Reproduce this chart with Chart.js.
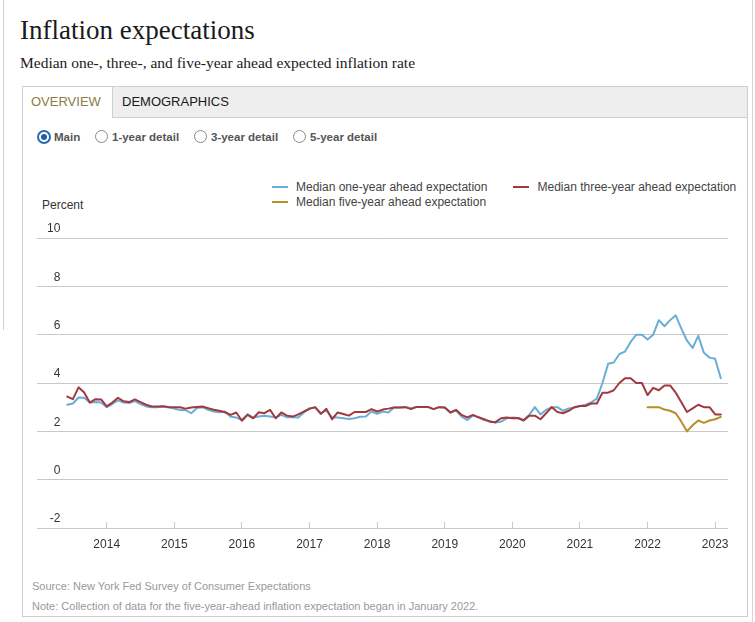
<!DOCTYPE html>
<html>
<head>
<meta charset="utf-8">
<script src="https://cdn.jsdelivr.net/npm/chart.js@4.4.0/dist/chart.umd.min.js"></script>
<style>
html,body{margin:0;padding:0;background:#fff;}
body{width:755px;height:622px;position:relative;overflow:hidden;font-family:Arial,"Liberation Sans",sans-serif;}
.abs{position:absolute;white-space:nowrap;}
#title{left:20px;top:14px;font-family:"Liberation Serif",serif;font-size:27px;color:#1a1a1a;line-height:32px;}
#subtitle{left:20px;top:54px;font-family:"Liberation Serif",serif;font-size:15.5px;color:#1a1a1a;line-height:18px;}
#leftline{left:3px;top:0;width:1px;height:330px;background:#d0d0d0;}
#rightline{left:752px;top:0;width:1px;height:622px;background:#d8d8d8;}
#panel{left:22px;top:86px;width:726px;height:531px;border:1px solid #cfcfcf;box-sizing:border-box;}
#tabbar{left:0;top:0;width:724px;height:30px;background:#eeeeee;border-bottom:1px solid #cfcfcf;}
#tab1{left:0;top:0;width:89px;height:31px;background:#fff;border-right:1px solid #cfcfcf;color:#8c7b45;font-size:13px;line-height:30px;text-indent:8px;}
#tab2{left:99px;top:0;height:30px;color:#1a1a1a;font-size:13px;line-height:30px;}
.radio{top:130px;width:11px;height:11px;border:1.5px solid #8a8a8a;border-radius:50%;background:#fff;}
.radio.sel{border:2px solid #2a6cb0;width:10px;height:10px;}
.radio.sel::after{content:"";position:absolute;left:2px;top:2px;width:6px;height:6px;border-radius:50%;background:#1f5fa6;}
.rlabel{top:130px;font-size:11.5px;font-weight:bold;color:#555;line-height:14px;}
#percent{left:42px;top:198px;font-size:12px;color:#333;line-height:14px;}
#legend{left:272px;top:179px;width:520px;display:flex;flex-wrap:wrap;}
.litem{display:flex;align-items:center;height:15px;margin-right:26px;font-size:12px;color:#444;white-space:nowrap;}
.lswatch{width:16px;height:2px;margin-right:8px;}
#chartwrap{left:0;top:210px;width:755px;height:360px;}
.foot{left:32px;font-size:11px;color:#999;line-height:13px;}
</style>
</head>
<body>
<div class="abs" id="leftline"></div>
<div class="abs" id="rightline"></div>
<div class="abs" id="title">Inflation expectations</div>
<div class="abs" id="subtitle">Median one-, three-, and five-year ahead expected inflation rate</div>
<div class="abs" id="panel">
  <div class="abs" id="tabbar"></div>
  <div class="abs" id="tab1">OVERVIEW</div>
  <div class="abs" id="tab2">DEMOGRAPHICS</div>
</div>
<div class="abs radio sel" style="left:37px;"></div><div class="abs rlabel" style="left:54px;">Main</div>
<div class="abs radio" style="left:95px;"></div><div class="abs rlabel" style="left:112px;">1-year detail</div>
<div class="abs radio" style="left:194px;"></div><div class="abs rlabel" style="left:211px;">3-year detail</div>
<div class="abs radio" style="left:293px;"></div><div class="abs rlabel" style="left:310px;">5-year detail</div>
<div class="abs" id="legend"></div>
<div class="abs" id="percent">Percent</div>
<div class="abs" id="chartwrap"><canvas id="c" width="755" height="360"></canvas></div>
<div class="abs foot" style="top:580px;">Source: New York Fed Survey of Consumer Expectations</div>
<div class="abs foot" style="top:600px;">Note: Collection of data for the five-year-ahead inflation expectation began in January 2022.</div>

<script>
// ---- data (monthly, survey months) ----
const firstMonth = [2013, 6];      // June 2013
const fiveYearFirstMonth = [2022, 1]; // January 2022

const oneYear = [
  3.10, 3.15, 3.40, 3.39, 3.19, 3.21, 3.19, 3.00, 3.13, 3.28, 3.19, 3.17, 3.25, 3.13, 3.03, 3.00, 3.00, 3.03, 2.99, 2.94,
  2.88, 2.88, 2.75, 2.96, 3.00, 2.89, 2.82, 2.79, 2.82, 2.60, 2.57, 2.47, 2.71, 2.57, 2.61, 2.64, 2.61, 2.57, 2.68, 2.58,
  2.58, 2.57, 2.78, 2.96, 2.99, 2.75, 2.86, 2.57, 2.57, 2.54, 2.51, 2.54, 2.60, 2.61, 2.82, 2.72, 2.82, 2.78, 2.99, 2.99,
  3.01, 2.96, 3.01, 3.01, 3.01, 2.92, 3.00, 2.99, 2.78, 2.86, 2.61, 2.47, 2.65, 2.58, 2.47, 2.43, 2.36, 2.40, 2.54, 2.57,
  2.55, 2.47, 2.68, 3.00, 2.70, 2.89, 3.00, 3.00, 2.85, 2.95, 2.98, 3.05, 3.10, 3.20, 3.35, 4.00, 4.80, 4.85, 5.20, 5.30,
  5.70, 6.00, 6.00, 5.80, 6.00, 6.60, 6.35, 6.60, 6.80, 6.25, 5.75, 5.45, 5.95, 5.25, 5.05, 5.00, 4.20
];
const threeYear = [
  3.44, 3.33, 3.82, 3.61, 3.19, 3.33, 3.32, 3.03, 3.19, 3.39, 3.24, 3.21, 3.32, 3.21, 3.10, 3.03, 3.03, 3.04, 3.01, 3.00,
  3.00, 2.94, 2.99, 3.01, 3.03, 2.96, 2.89, 2.85, 2.79, 2.68, 2.78, 2.44, 2.68, 2.54, 2.79, 2.75, 2.89, 2.54, 2.78, 2.65,
  2.61, 2.70, 2.82, 2.93, 3.00, 2.72, 2.93, 2.50, 2.78, 2.72, 2.65, 2.80, 2.80, 2.80, 2.92, 2.82, 2.90, 2.94, 2.99, 2.99,
  3.00, 2.92, 3.01, 3.01, 3.01, 2.92, 3.00, 2.99, 2.78, 2.89, 2.68, 2.58, 2.68, 2.58, 2.50, 2.40, 2.38, 2.54, 2.57, 2.54,
  2.55, 2.45, 2.65, 2.65, 2.50, 2.75, 3.00, 2.80, 2.75, 2.85, 3.00, 3.05, 3.05, 3.15, 3.15, 3.60, 3.60, 3.70, 4.00, 4.20,
  4.20, 4.00, 4.00, 3.50, 3.80, 3.70, 3.90, 3.90, 3.60, 3.20, 2.80, 2.95, 3.10, 3.00, 3.00, 2.70, 2.70
];
const fiveYear = [3.00, 3.00, 3.00, 2.90, 2.85, 2.75, 2.40, 2.00, 2.25, 2.45, 2.35, 2.45, 2.50, 2.60];

const yTicks = [-2, 0, 2, 4, 6, 8, 10];
const xYearLabels = [2014, 2015, 2016, 2017, 2018, 2019, 2020, 2021, 2022, 2023];

const seriesNames = ['Median one-year ahead expectation', 'Median three-year ahead expectation', 'Median five-year ahead expectation'];
const seriesColors = ['#6aaed4', '#a3383e', '#b78f2a'];

// month index -> decimal year position
function monthPos(start, i) {
  const total = start[0] * 12 + (start[1] - 1) + i;
  return Math.floor(total / 12) + (total % 12) / 12;
}
function toPoints(start, values) {
  return values.map((v, i) => ({ x: monthPos(start, i), y: v }));
}

const htmlLegend = {
  id: 'htmlLegend',
  afterUpdate(chart) {
    const box = document.getElementById('legend');
    box.innerHTML = '';
    chart.data.datasets.forEach(ds => {
      const item = document.createElement('div');
      item.className = 'litem';
      const sw = document.createElement('span');
      sw.className = 'lswatch';
      sw.style.background = ds.borderColor;
      const tx = document.createElement('span');
      tx.textContent = ds.label;
      item.appendChild(sw); item.appendChild(tx);
      box.appendChild(item);
    });
  }
};

new Chart(document.getElementById('c'), {
  type: 'line',
  data: {
    datasets: [
      { label: seriesNames[0], data: toPoints(firstMonth, oneYear), borderColor: seriesColors[0], order: 2 },
      { label: seriesNames[1], data: toPoints(firstMonth, threeYear), borderColor: seriesColors[1], order: 1 },
      { label: seriesNames[2], data: toPoints(fiveYearFirstMonth, fiveYear), borderColor: seriesColors[2], order: 0 }
    ]
  },
  options: {
    responsive: false,
    animation: false,
    events: [],
    layout: { padding: { left: 37, right: 27, top: 28, bottom: 10 } },
    elements: {
      line: { borderWidth: 2, tension: 0, fill: false, borderCapStyle: 'round', borderJoinStyle: 'round' },
      point: { radius: 0 }
    },
    plugins: { legend: { display: false }, tooltip: { enabled: false } },
    scales: {
      x: {
        type: 'linear',
        min: 2012.969,
        max: 2023.19,
        afterBuildTicks(scale) {
          scale.ticks = xYearLabels.map(v => ({ value: v }));
        },
        afterFit(scale) { scale.height = 32; },
        border: { display: false },
        grid: { drawOnChartArea: false, drawTicks: true, tickLength: -6, color: '#c8c8c8' },
        ticks: {
          padding: 15,
          maxRotation: 0,
          autoSkip: false,
          color: '#333',
          font: { family: 'Arial, "Liberation Sans", sans-serif', size: 12 },
          callback: v => String(v)
        }
      },
      y: {
        min: -2,
        max: 10,
        afterBuildTicks(scale) {
          scale.ticks = yTicks.map(v => ({ value: v }));
        },
        afterFit(scale) { scale.width = 0; },
        border: { display: false },
        grid: { color: '#c8c8c8', drawTicks: false, lineWidth: 1 },
        ticks: {
          mirror: true,
          crossAlign: 'far',
          padding: 10,
          labelOffset: -9,
          color: '#333',
          font: { family: 'Arial, "Liberation Sans", sans-serif', size: 12 }
        }
      }
    }
  },
  plugins: [htmlLegend]
});
</script>
</body>
</html>
